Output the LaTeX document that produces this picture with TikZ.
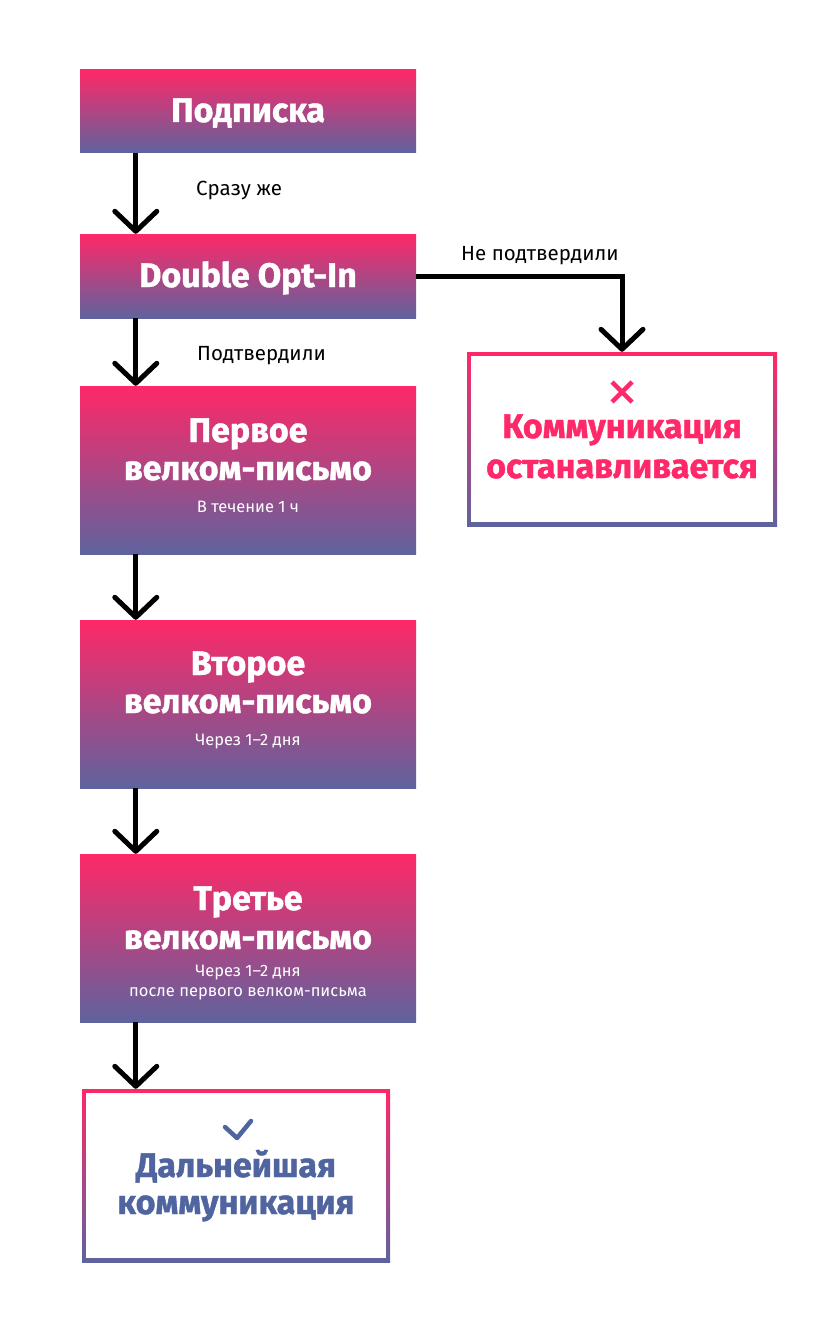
\documentclass[tikz,border=0pt]{standalone}
\usepackage{fontspec}
\setmainfont{Fira Sans}
\newfontfamily\heavyfont{Fira Sans}[BoldFeatures={FakeBold=1.2}]
\usetikzlibrary{arrows.meta,calc}
\definecolor{gpink}{RGB}{255,40,104}
\definecolor{gblue}{RGB}{94,99,158}
\definecolor{tblue}{RGB}{80,101,160}
\begin{document}
\begin{tikzpicture}[x=1pt,y=1pt,
  gbox/.style={rectangle, minimum width=336pt, inner sep=0pt, top color=gpink, bottom color=gblue, draw=none},
  obox/.style={rectangle, inner sep=0pt, top color=gpink, bottom color=gblue, draw=none,
    path picture={\fill[white] ($(path picture bounding box.north west)+(4,-4)$) rectangle ($(path picture bounding box.south east)+(-4,4)$);}},
  ttl/.style={text=white, inner sep=0pt, anchor=base, font=\heavyfont\bfseries\fontsize{34}{34}\selectfont},
  sub/.style={text=white, inner sep=0pt, anchor=base, font=\fontsize{16.5}{16.5}\selectfont},
  lbl/.style={text=black, inner sep=0pt, anchor=base west, font=\fontsize{20.5}{20.5}\selectfont},
  pinkttl/.style={ttl, text=gpink},
  bluettl/.style={ttl, text=tblue},
  arr/.style={line width=5pt, -{Straight Barb[length=20pt,width=42pt,round]}},
  conn/.style={line width=5pt, -{Straight Barb[length=20pt,width=42pt,round]}}
]
\useasboundingbox (0,0) rectangle (840,-1343);
\fill[white] (0,0) rectangle (840,-1343);

% boxes
\node[gbox, minimum height=83pt] (b1) at (248,-111.5) {};
\node[gbox, minimum height=84pt] (b2) at (248,-276) {};
\node[gbox, minimum height=168pt] (b3) at (248,-470) {};
\node[gbox, minimum height=168pt] (b4) at (248,-704) {};
\node[gbox, minimum height=168pt] (b5) at (248,-938) {};
\node[obox, minimum width=310pt, minimum height=174pt] (r) at (622,-439) {};
\node[obox, minimum width=308pt, minimum height=173pt] (b6) at (236,-1175.5) {};

% box texts
\node[ttl] (t1) at ($(b1.center)+(0,-10.5)$) {Подписка};
\node[ttl] (t2) at ($(b2.center)+(0,-11)$) {Double Opt-In};
\node[ttl] (t3a) at ($(b3.center)+(0,28)$) {Первое};
\node[ttl] (t3b) at ($(b3.center)+(0,-10)$) {велком-письмо};
\node[sub] (t3c) at ($(b3.center)+(0,-42)$) {В течение 1 ч};
\node[ttl] (t4a) at ($(b4.center)+(0,29)$) {Второе};
\node[ttl] (t4b) at ($(b4.center)+(0,-9)$) {велком-письмо};
\node[sub] (t4c) at ($(b4.center)+(0,-41)$) {Через 1–2 дня};
\node[ttl] (t5a) at ($(b5.center)+(0,28)$) {Третье};
\node[ttl] (t5b) at ($(b5.center)+(0,-11)$) {велком-письмо};
\node[sub] (t5c) at ($(b5.center)+(0,-38)$) {Через 1–2 дня};
\node[sub] (t5d) at ($(b5.center)+(0,-58)$) {после первого велком-письма};

% right box
\draw[gpink, line width=4.5pt] (612,-382) coordinate (x1) -- (632,-402) coordinate (x2);
\draw[gpink, line width=4.5pt] (632,-382) coordinate (x3) -- (612,-402) coordinate (x4);
\node[pinkttl] (ra) at (622,-438) {Коммуникация};
\node[pinkttl] (rb) at (622,-478) {останавливается};

% bottom box
\draw[tblue, line width=4.5pt, line cap=round, line join=round] (225,-1127) coordinate (c1) -- (237,-1138) coordinate (c2) -- (251,-1121) coordinate (c3);
\node[bluettl] (ba) at (236,-1177) {Дальнейшая};
\node[bluettl] (bb) at (236,-1214) {коммуникация};

% arrows
\draw[arr] ($(b1.south west)+(56,0)$) coordinate (a1) -- (a1 |- b2.north);
\draw[arr] ($(b2.south west)+(56,0)$) coordinate (a2) -- (a2 |- b3.north);
\draw[arr] ($(b3.south west)+(56,0)$) coordinate (a3) -- (a3 |- b4.north);
\draw[arr] ($(b4.south west)+(56,0)$) coordinate (a4) -- (a4 |- b5.north);
\draw[arr] ($(b5.south west)+(56,0)$) coordinate (a5) -- (a5 |- b6.north);
\draw[conn] (b2.east) -| (r.north);

% labels
\node[lbl] (l1) at (196,-196) {Сразу же};
\node[lbl] (l2) at (197,-360) {Подтвердили};
\node[lbl] (l3) at (461,-260) {Не подтвердили};
\end{tikzpicture}
\end{document}
